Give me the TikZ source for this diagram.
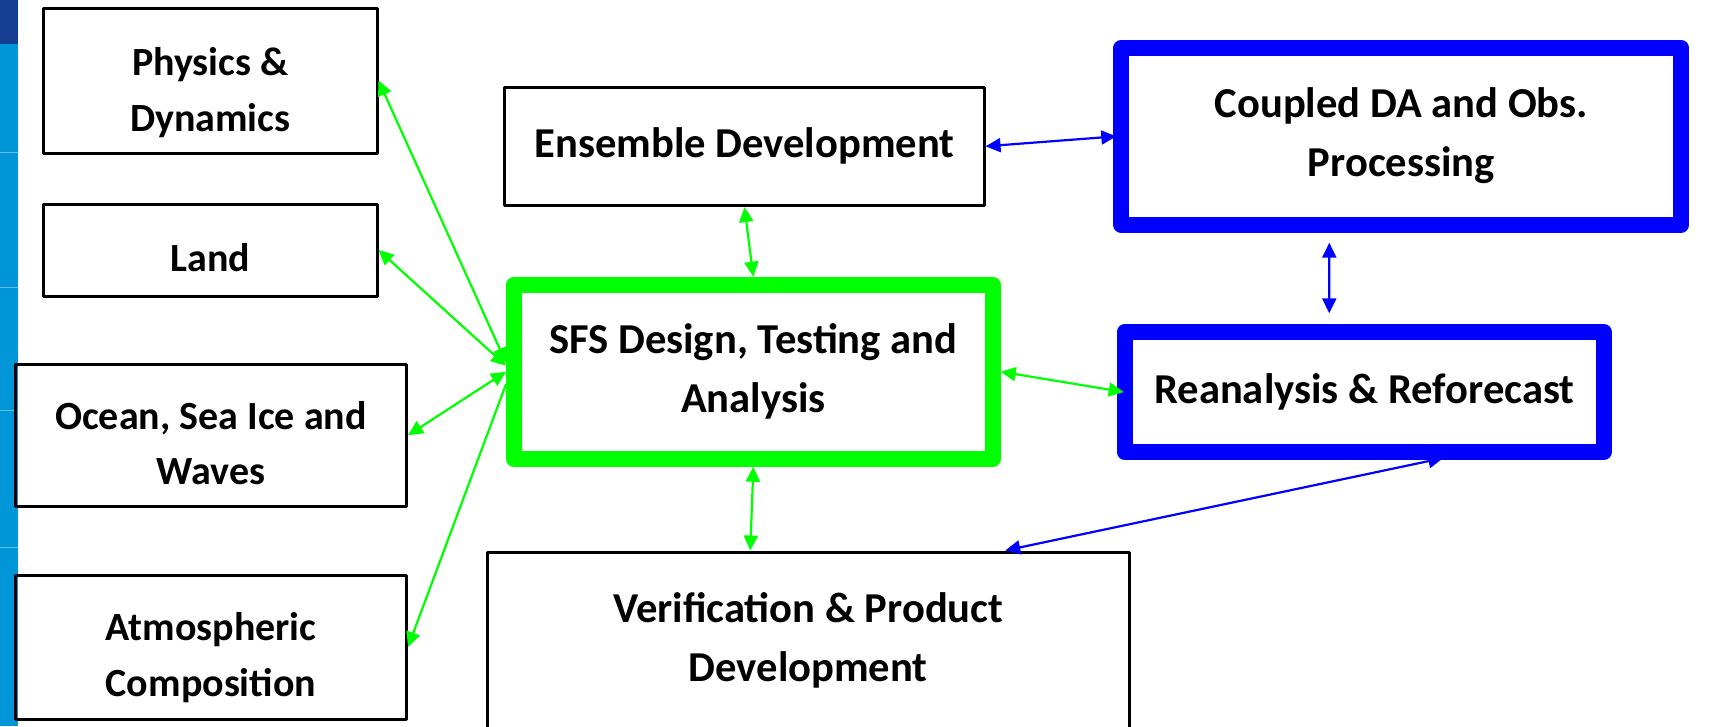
\documentclass[tikz,border=0pt]{standalone}
\usepackage{fontspec}
\setmainfont{Carlito}
\usetikzlibrary{arrows.meta}

\definecolor{sfsgreen}{RGB}{0,255,0}
\definecolor{dablue}{RGB}{0,0,255}
\definecolor{stripblue}{RGB}{0,150,215}
\definecolor{stripnavy}{RGB}{20,62,145}

\tikzset{
	box/.style={draw=black,line width=3pt,line join=round,align=center,inner sep=0pt,
		font=\bfseries\fontsize{40}{55.6}\selectfont},
	bigbox/.style={box,font=\bfseries\fontsize{42.6}{59}\selectfont},
	greenbox/.style={bigbox,draw=sfsgreen,line width=16pt},
	bluebox/.style={bigbox,draw=dablue,line width=16pt},
	gline/.style={sfsgreen,line width=2.2pt},
	bline/.style={dablue,line width=2.2pt},
}

\begin{document}
\begin{tikzpicture}[x=1pt,y=-1pt,>={Triangle[length=15pt,width=14pt]}]
	\clip (0,0) rectangle (1710,726);
	% strip of the slide on the left
	\fill[stripblue] (0,0) rectangle (17.5,726);
	\fill[stripnavy] (0,0) rectangle (17.5,44);
	\foreach \y in {152,287,410,547}
		\draw[white!40!stripblue,line width=1pt] (0,\y) -- (17.5,\y);
	% component boxes
	\node[box,minimum width=333.5pt,minimum height=145pt,text height=106.8pt,text depth=5pt] (phys) at (210.25,80.5) {Physics \&\\Dynamics};
	\node[box,minimum width=333.5pt,minimum height=92pt,text height=46pt,text depth=4pt] (land) at (210.25,250) {Land};
	\node[box,minimum width=391pt,minimum height=142.5pt,text height=104.1pt,text depth=5pt] (ocean) at (211,435.25) {Ocean, Sea Ice and\\Waves};
	\node[box,minimum width=391pt,minimum height=144pt,text height=103.8pt,text depth=5pt] (atmos) at (211,647) {Atmospheric\\Composition};
	\node[bigbox,minimum width=479.3pt,minimum height=118.5pt] (ens) at (744.4,146.3) {Ensemble Development};
	\node[greenbox,minimum width=478.7pt,minimum height=174pt,text height=86.6pt,text depth=5pt] (sfs) at (753.35,371.7) {SFS Design, Testing and\\Analysis};
	\node[bigbox,minimum width=641.5pt,minimum height=188pt,text height=75pt,text depth=5pt] (ver) at (808.25,646) {Verification \& Product\\Development};
	\node[bluebox,minimum width=560pt,minimum height=176.7pt,text height=84.3pt,text depth=5pt] (cda) at (1401.3,136.35) {Coupled DA and Obs.\\Processing};
	\node[bluebox,minimum width=479.1pt,minimum height=120pt] (rean) at (1364.25,392) {Reanalysis \& Reforecast};
	% links to the SFS box
	\draw[gline,<->] (phys.east) -- ([yshift=9pt]sfs.west);
	\draw[gline,<->] (land.east) -- ([yshift=6pt]sfs.west);
	\draw[gline,<->] (ocean.east) -- (sfs.west);
	\draw[gline,->] ([yshift=-12.5pt]sfs.west) -- (atmos.east);
	\draw[gline,<->] (ens.south) -- (sfs.north);
	\draw[gline,<->] (sfs.south) -- ([xshift=-58pt]ver.north);
	\draw[gline,<->] (sfs.east) -- ([xshift=7pt]rean.west);
	% blue links
	\draw[bline,<->] (ens.east) -- ([xshift=3pt]cda.west);
	\draw[bline,<->] ([xshift=-72pt,yshift=-10pt]cda.south) -- ([xshift=-35pt,yshift=10.7pt]rean.north);
	\draw[bline,<->] ([xshift=79pt,yshift=2pt]rean.south) -- ([xshift=197pt]ver.north);
\end{tikzpicture}
\end{document}
